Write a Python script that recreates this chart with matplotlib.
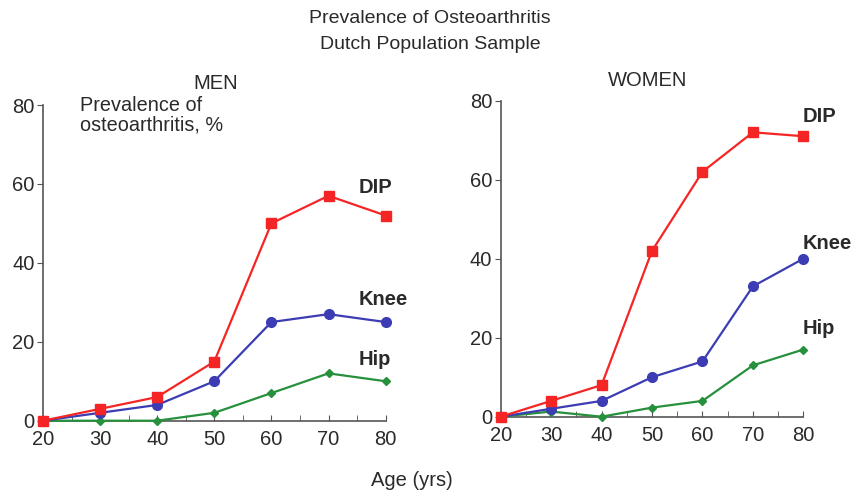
import matplotlib.pyplot as plt

plt.rcParams['font.family'] = ['Liberation Sans', 'DejaVu Sans']

age = [20, 30, 40, 50, 60, 70, 80]

men_dip = [0, 3, 6, 15, 50, 57, 52]
men_knee = [0, 2, 4, 10, 25, 27, 25]
men_hip = [0, 0, 0, 2, 7, 12, 10]

women_dip = [0, 4, 8, 42, 62, 72, 71]
women_knee = [0, 2, 4, 10, 14, 33, 40]
women_hip = [0, 1.3, 0, 2.3, 4, 13, 17]

red = '#f52525'
blue = '#3c3cb4'
green = '#26903c'
axis_col = '#555555'
text_col = '#2a2a2a'

fig = plt.figure(figsize=(8.55, 4.90), dpi=100)
ax1 = fig.add_axes([0.0503, 0.1414, 0.4007, 0.6443])
ax2 = fig.add_axes([0.5856, 0.1496, 0.3540, 0.6449])


def draw(ax, dip, knee, hip):
    ax.plot(age, hip, color=green, marker='D', markersize=4, lw=1.6, zorder=3)
    ax.plot(age, knee, color=blue, marker='o', markersize=7, lw=1.6, zorder=4)
    ax.plot(age, dip, color=red, marker='s', markersize=7.5, lw=1.6, zorder=5)
    ax.set_xlim(20, 80)
    ax.set_ylim(0, 80)
    ax.set_xticks(age)
    ax.set_xticks(range(25, 80, 10), minor=True)
    ax.set_yticks([0, 20, 40, 60, 80])
    for s in ['top', 'right']:
        ax.spines[s].set_visible(False)
    for s in ['left', 'bottom']:
        ax.spines[s].set_color(axis_col)
        ax.spines[s].set_linewidth(1.2)
    ax.tick_params(axis='x', which='both', direction='in', length=4,
                   color=axis_col, labelsize=14.5, labelcolor=text_col, pad=7)
    ax.tick_params(axis='y', direction='out', length=4, color=axis_col,
                   labelsize=14.5, labelcolor=text_col, pad=2)
    for p in ax.get_lines():
        p.set_clip_on(False)


draw(ax1, men_dip, men_knee, men_hip)
draw(ax2, women_dip, women_knee, women_hip)

lab = dict(fontsize=14.5, fontweight='bold', color=text_col, ha='left', va='center')
ax1.text(75.3, 59, 'DIP', **lab)
ax1.text(75.2, 30.8, 'Knee', **lab)
ax1.text(75.2, 15.6, 'Hip', **lab)
ax2.text(79.8, 76, 'DIP', **lab)
ax2.text(79.8, 43.9, 'Knee', **lab)
ax2.text(79.8, 22.4, 'Hip', **lab)

ax1.text(26.5, 82.2, 'Prevalence of\nosteoarthritis, %', fontsize=14.3,
         color=text_col, ha='left', va='top', linespacing=1.0)

fig.text(0.503, 0.963, 'Prevalence of Osteoarthritis', ha='center', va='center',
         fontsize=14, color=text_col)
fig.text(0.503, 0.91, 'Dutch Population Sample', ha='center', va='center',
         fontsize=14, color=text_col)
fig.text(0.252, 0.83, 'MEN', ha='center', va='center', fontsize=14.5, color=text_col)
fig.text(0.758, 0.836, 'WOMEN', ha='center', va='center', fontsize=14.5, color=text_col)
fig.text(0.482, 0.02, 'Age (yrs)', ha='center', va='center', fontsize=14.5, color=text_col)

fig.savefig('out.png', dpi=100)
